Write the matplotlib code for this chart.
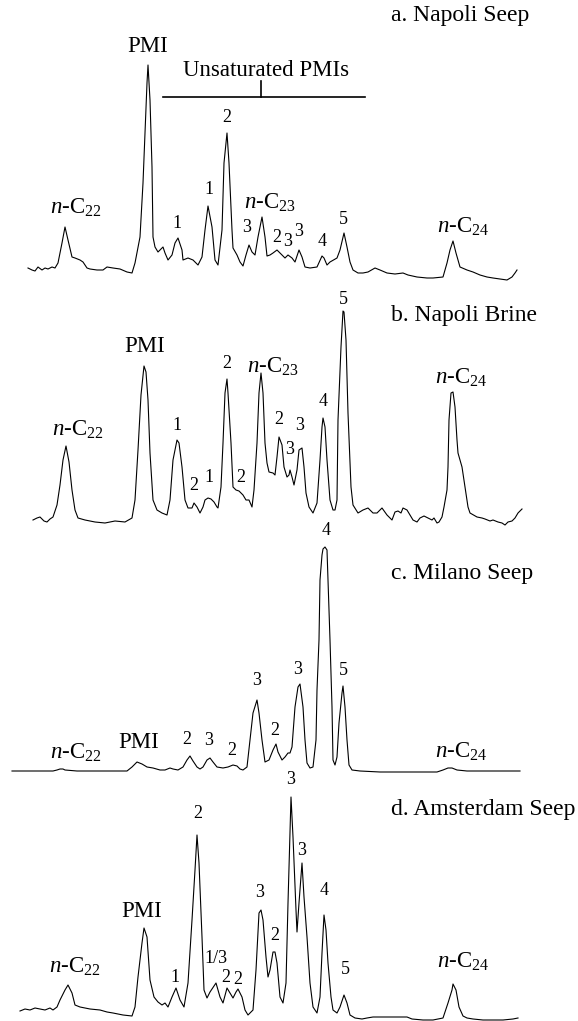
import matplotlib
matplotlib.use("Agg")
import matplotlib.pyplot as plt

plt.rcParams['font.family'] = 'Liberation Serif'
plt.rcParams['mathtext.fontset'] = 'custom'
plt.rcParams['mathtext.rm'] = 'Liberation Serif'
plt.rcParams['mathtext.it'] = 'Liberation Serif:italic'

# chromatogram traces: (retention position, detector response)
napoli_seep = [(28,12),(32,10),(35,9),(38,13),(42,10),(45,12),(48,11),(52,13),(55,12),(58,17),(62,37),(65,53),
               (68,40),(72,23),(75,22),(80,20),(83,18),(87,12),(90,11),(97,10),(103,10),(107,13),(113,12),(120,11),
               (127,8),(132,7),(135,17),(140,43),(143,97),(147,197),(148,215),(150,180),(152,113),(153,43),(155,33),
               (158,28),(160,30),(163,33),(165,27),(168,20),(172,25),(175,37),(178,42),(182,30),(183,20),(188,22),
               (193,20),(198,15),(202,23),(205,50),(208,74),(212,53),(215,20),(218,15),(222,50),(224,117),(227,147),
               (229,117),(232,50),(233,32),(237,25),(240,18),(243,14),(246,25),(249,35),(252,28),(255,25),(258,43),
               (262,63),(265,43),(267,24),(270,25),(273,27),(277,30),(282,25),(285,22),(288,25),(292,22),(295,18),
               (299,30),(302,23),(305,13),(310,12),(317,13),(322,24),(324,22),(327,15),(330,18),(337,22),(340,30),
               (344,47),(347,33),(350,18),(353,10),(358,7),(363,7),(368,8),(375,12),(380,10),(387,7),(395,6),(403,7),
               (408,5),(417,3),(427,2),(433,2),(443,3),(447,17),(450,30),(453,39),(456,27),(460,13),(467,10),(473,8),
               (480,5),(487,3),(493,2),(500,1),(507,0),(512,3),(515,7),(517,10)]

napoli_brine = [(33,10),(37,12),(40,13),(44,9),(47,8),(50,11),(53,13),(57,25),(60,45),(63,70),(66,84),(69,68),
                (72,40),(75,20),(78,12),(85,10),(95,8),(105,7),(115,9),(125,8),(132,12),(135,30),(138,80),(141,135),
                (144,164),(146,158),(148,130),(150,77),(153,30),(157,20),(162,17),(167,15),(170,30),(173,70),(177,90),
                (179,87),(182,63),(185,30),(188,22),(192,22),(194,27),(197,23),(200,17),(203,23),(205,30),(208,32),
                (211,31),(214,28),(217,23),(218,22),(221,43),(223,87),(225,137),(227,151),(228,137),(231,87),(233,43),
                (236,40),(239,39),(243,35),(246,30),(249,30),(252,23),(254,40),(257,87),(259,137),(261,157),(263,137),
                (265,87),(267,67),(269,58),(273,57),(275,55),(277,73),(279,93),(282,85),(284,63),(287,53),(289,55),
                (290,60),(292,53),(294,45),(297,60),(299,80),(302,82),(304,63),(306,37),(309,23),(313,17),(317,27),
                (320,70),(322,103),(323,112),(325,103),(327,70),(330,30),(333,20),(335,20),(337,30),(338,110),
                (341,183),(343,219),(344,218),(346,190),(348,117),(351,43),(353,25),(358,17),(363,20),(368,22),
                (373,17),(377,17),(382,22),(387,15),(392,10),(395,18),(398,19),(401,17),(403,22),(407,20),(410,15),
                (413,10),(417,8),(420,12),(424,14),(428,12),(432,10),(434,12),(437,7),(439,8),(442,13),(444,23),
                (447,40),(448,63),(449,110),(451,137),(453,138),(455,123),(457,90),(458,77),(462,63),(465,43),
                (468,23),(470,17),(477,13),(482,12),(485,11),(490,9),(493,10),(498,8),(502,7),(505,5),(508,8),
                (512,9),(515,12),(518,17),(522,21)]

milano_seep = [(12,4),(30,4),(53,4),(57,5),(60,6),(63,6),(65,5),(77,4),(100,4),(127,4),(132,8),(137,13),(142,11),
               (147,8),(153,7),(160,5),(165,5),(170,7),(173,6),(178,5),(183,8),(187,15),(190,19),(193,14),(197,8),
               (200,6),(203,8),(207,15),(210,17),(213,13),(217,8),(223,7),(228,8),(233,10),(237,9),(240,6),(243,5),
               (247,8),(250,35),(253,62),(257,75),(259,62),(262,35),(265,13),(269,15),(273,25),(276,31),(278,23),
               (282,15),(285,18),(288,22),(290,22),(292,28),(295,68),(298,88),(300,91),(303,68),(305,35),(307,12),
               (310,7),(313,8),(316,35),(317,85),(319,135),(320,195),(322,220),(323,226),(325,228),(327,225),(328,195),
               (330,135),(332,68),(333,15),(335,10),(337,18),(339,52),(342,82),(343,89),(345,68),(347,35),(349,10),
               (352,5),(360,4),(380,3),(413,3),(437,3),(443,5),(448,7),(452,7),(457,5),(467,4),(487,4),(520,4)]

amsterdam_seep = [(20,10),(25,12),(30,11),(35,13),(40,12),(45,11),(50,13),(53,11),(57,14),(60,21),(65,31),(68,36),
                  (72,28),(75,16),(80,14),(85,13),(90,12),(100,11),(107,9),(113,8),(123,6),(132,5),(135,14),(138,44),
                  (142,78),(144,93),(147,84),(150,41),(154,24),(158,19),(162,16),(165,18),(168,14),(172,24),(176,33),
                  (180,21),(184,14),(188,38),(192,101),(195,151),(197,186),(199,158),(202,84),(204,31),(207,23),
                  (210,29),(216,38),(220,24),(223,18),(227,33),(230,28),(233,23),(236,29),(238,32),(242,24),(245,11),
                  (248,6),(253,11),(256,51),(259,108),(261,111),(263,101),(266,64),(268,44),(270,51),(273,69),
                  (275,69),(277,58),(280,24),(283,18),(286,38),(288,118),(291,224),(293,184),(296,111),(297,89),
                  (299,118),(302,158),(304,124),(307,84),(310,38),(313,14),(317,8),(320,24),(322,68),(324,106),
                  (326,91),(328,58),(331,24),(333,11),(337,8),(340,14),(344,26),(347,18),(350,6),(355,3),(362,2),
                  (367,3),(373,4),(380,4),(390,4),(400,4),(407,4),(412,2),(423,1),(433,1),(443,3),(448,18),(452,31),
                  (453,37),(456,31),(459,14),(463,5),(467,3),(473,2),(483,1),(493,1),(503,1),(513,2),(518,3)]

titles = ["a. Napoli Seep", "b. Napoli Brine", "c. Milano Seep", "d. Amsterdam Seep"]

# peak labels: (text, position, response)
napoli_seep_labels = [("nC22",76,66),("PMI",148,234),("1",177,57),("1",209,90),("2",227,163),("3",247,52),
                      ("nC23",270,71),("2",277,43),("3",288,38),("3",299,49),("4",322,38),("5",343,61),("nC24",463,47)]
napoli_brine_labels = [("nC22",78,94),("PMI",145,184),("1",177,105),("2",194,45),("1",209,53),("2",227,167),
                       ("2",241,52),("nC23",273,157),("2",279,110),("3",290,80),("3",300,104),("4",323,129),
                       ("5",343,231),("nC24",461,146)]
milano_seep_labels = [("nC22",76,16),("PMI",139,33),("2",187,36),("3",209,35),("2",232,25),("3",257,95),
                      ("2",275,45),("3",298,106),("4",326,245),("5",343,105),("nC24",461,17)]
amsterdam_seep_labels = [("nC22",75,48),("PMI",142,110),("1",175,44),("2",198,208),("1/3",216,63),("2",226,44),
                         ("2",238,42),("3",260,129),("2",275,86),("3",291,241),("3",302,171),("4",324,131),
                         ("5",345,52),("nC24",463,53)]

traces = [napoli_seep, napoli_brine, milano_seep, amsterdam_seep]
labels = [napoli_seep_labels, napoli_brine_labels, milano_seep_labels, amsterdam_seep_labels]

W, H = 578, 1021
bands = [(0, 280), (280, 530), (530, 775), (775, 1021)]  # panel top / baseline in pixels
title_y = [265, 214, 202, 212]

fig = plt.figure(figsize=(W/100, H/100), dpi=100)

for i in range(4):
    top, base = bands[i]
    ax = fig.add_axes([0, 1 - base/H, 1, (base - top)/H])
    ax.set_xlim(0, W)
    ax.set_ylim(0, base - top)
    ax.axis('off')
    xs = [p[0] for p in traces[i]]
    ys = [p[1] for p in traces[i]]
    ax.plot(xs, ys, color='black', lw=0.8, clip_on=False)
    ax.text(391, title_y[i], titles[i], fontsize=17, ha='left', va='center')
    for txt, x, y in labels[i]:
        if txt.startswith("n"):
            s = r'$n$-C$_{\mathrm{%s}}$' % txt[2:]
            ax.text(x, y, s, fontsize=16.5, ha='center', va='baseline')
        elif txt == "PMI":
            ax.text(x, y, txt, fontsize=16.5, ha='center', va='center')
        else:
            ax.text(x, y, txt, fontsize=13, ha='center', va='center')
    if i == 0:
        # unsaturated PMI bracket
        ax.text(266, 204, "Unsaturated PMIs", fontsize=16.5, ha='center', va='baseline')
        ax.plot([163, 365], [183, 183], color='black', lw=1.2)
        ax.plot([261, 261], [183, 199], color='black', lw=1.2)

fig.savefig('out.png', dpi=100)
